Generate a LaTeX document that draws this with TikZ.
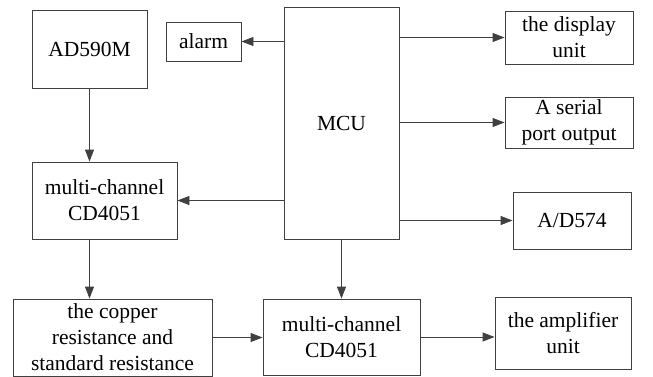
\documentclass[tikz,border=0pt]{standalone}
\usepackage{fontspec}
\setmainfont{Liberation Serif}
\newfontfamily\tnr{Liberation Serif}
\usetikzlibrary{arrows.meta}
\begin{document}
\begin{tikzpicture}[x=1pt,y=-1pt,
  box/.style={draw=black!75, line width=0.9pt, inner sep=0pt, align=center,
    font=\tnr\fontsize{21.5}{26}\selectfont},
  arr/.style={draw=black!75, line width=0.9pt, -{Triangle[length=12pt,width=9pt]}}]
\useasboundingbox[fill=white] (0,0) rectangle (653,377);
\node[box, minimum width=115, minimum height=78] (ad) at (89.5,49) {AD590M};
\node[box, minimum width=75, minimum height=39] (alarm) at (203.5,41.5) {alarm};
\node[box, minimum width=115, minimum height=232] (mcu) at (341.5,123) {MCU};
\node[box, minimum width=128, minimum height=53] (disp) at (569,37.5) {the display\\unit};
\node[box, minimum width=128, minimum height=51] (serial) at (569,122.5) {A serial\\port output};
\node[box, minimum width=118, minimum height=57] (adc) at (572,220.5) {A/D574};
\node[box, minimum width=145, minimum height=77] (mux1) at (104.5,200.5) {multi-channel\\CD4051};
\node[box, minimum width=199, minimum height=77] (copper) at (112.5,337.5) {the copper\\resistance and\\standard resistance};
\node[box, minimum width=157, minimum height=76] (mux2) at (341.5,337) {multi-channel\\CD4051};
\node[box, minimum width=136, minimum height=72] (amp) at (563,333) {the amplifier\\unit};
\draw[arr] (ad.south) -- (ad.south |- mux1.north);
\draw[arr] (mcu.west |- alarm.east) -- (alarm.east);
\draw[arr] (mcu.east |- disp.west) -- (disp.west);
\draw[arr] (mcu.east |- serial.west) -- (serial.west);
\draw[arr] (mcu.east |- adc.west) -- (adc.west);
\draw[arr] (mcu.west |- mux1.east) -- (mux1.east);
\draw[arr] (ad.south |- mux1.south) -- (ad.south |- copper.north);
\draw[arr] (mcu.south) -- (mux2.north);
\draw[arr] (copper.east) -- (copper.east -| mux2.west);
\draw[arr] (mux2.east) -- (mux2.east -| amp.west);
\end{tikzpicture}
\end{document}
